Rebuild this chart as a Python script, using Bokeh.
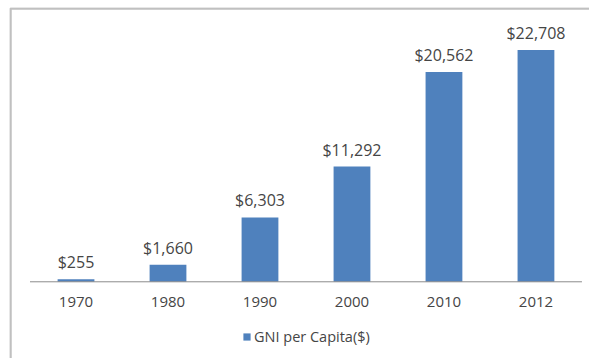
from bokeh.plotting import figure
from bokeh.models import ColumnDataSource, Range1d, Legend, LegendItem, BoxAnnotation
from bokeh.core.properties import value
from bokeh.embed import file_html
from bokeh.resources import INLINE

years = ["1970", "1980", "1990", "2000", "2010", "2012"]
gni_per_capita = [255, 1660, 6303, 11292, 20562, 22708]
value_labels = ["$" + format(v, ",") for v in gni_per_capita]
series_name = "GNI per Capita($)"

FONT = "Open Sans"
BAR = "#4F81BD"
TXT = "#454545"

pos = list(range(len(years)))
src = ColumnDataSource(dict(x=pos, year=years, gni=gni_per_capita, lab=value_labels))

p = figure(
    width=589, height=358,
    x_range=Range1d(-0.723, 5.582),
    y_range=Range1d(-7517, 26881),
    output_backend="svg", toolbar_location=None,
    min_border_left=9, min_border_right=0, min_border_top=7, min_border_bottom=0,
    outline_line_color=None, background_fill_color="white", border_fill_color="white",
)
p.xaxis.visible = False
p.yaxis.visible = False
p.grid.visible = False

r = p.vbar(x="x", top="gni", width=0.4, source=src, fill_color=BAR, line_color=None)

# category axis baseline spanning the category slots
p.segment(x0=[pos[0] - 0.5], x1=[pos[-1] + 0.5], y0=[0], y1=[0],
          line_color="#8c8c8c", line_width=1)

# value labels above bars
p.text(x="x", y="gni", text="lab", source=src, text_align="center",
       text_baseline="alphabetic", y_offset=-17, text_color=TXT,
       text_font=value(FONT), text_font_size="16px")

# category labels below the baseline
p.text(x="x", y=0, text="year", source=src, text_align="center",
       text_baseline="alphabetic", y_offset=20, text_color=TXT,
       text_font=value(FONT), text_font_size="15px")

legend = Legend(items=[LegendItem(label=series_name, renderers=[r])],
                orientation="horizontal", location=(233, 12),
                border_line_color=None, background_fill_alpha=0,
                label_text_font=FONT, label_text_font_size="14.5px",
                label_text_color=TXT, glyph_width=9, glyph_height=9,
                label_standoff=3, padding=2, margin=0)
p.add_layout(legend)

frame_box = BoxAnnotation(left=10, right=700, top=8, bottom=700,
                          left_units="canvas", right_units="canvas",
                          top_units="canvas", bottom_units="canvas",
                          fill_alpha=0, line_color="#2e2e2e", line_width=2.5,
                          editable=False)
p.add_layout(frame_box)

open("out.html", "w").write(file_html(p, INLINE))
